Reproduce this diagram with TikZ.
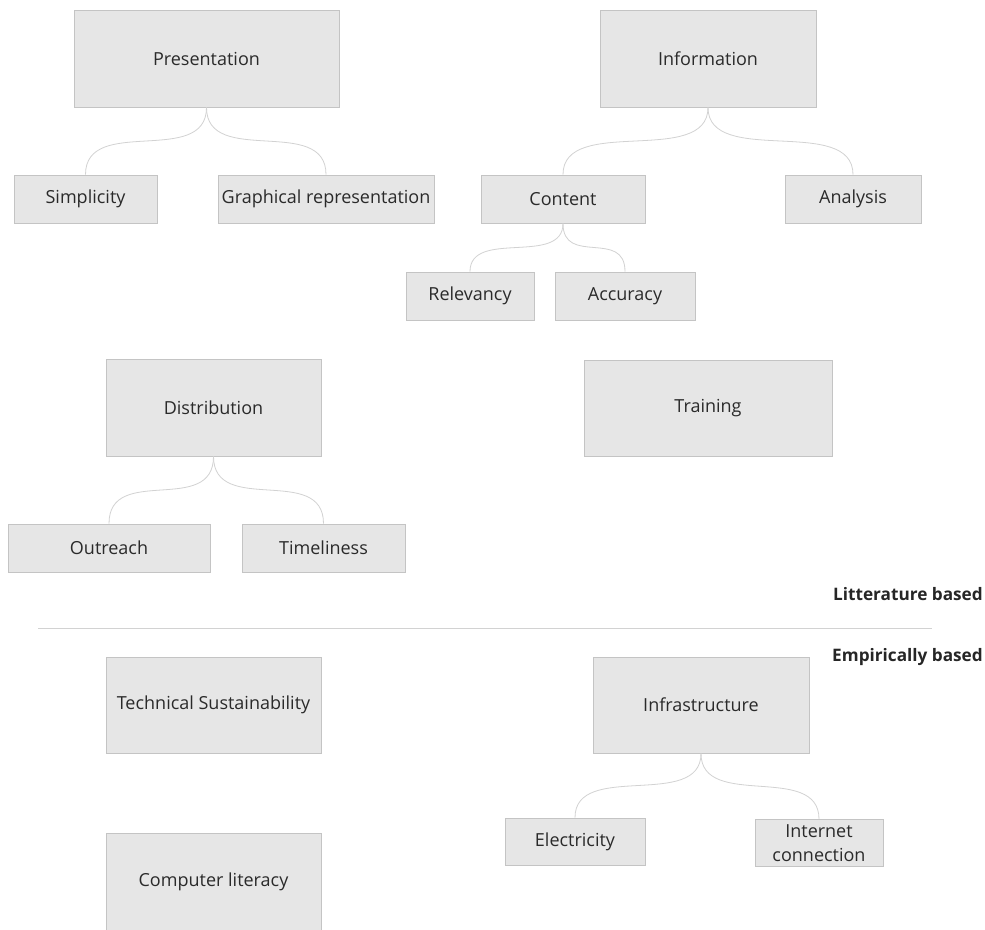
\documentclass[tikz,border=0pt]{standalone}
\usepackage{fontspec}
\setmainfont{Open Sans}
\definecolor{boxfill}{HTML}{E6E6E6}
\definecolor{boxline}{HTML}{C4C4C4}
\definecolor{connline}{HTML}{D2D2D2}
\definecolor{txt}{HTML}{2A2A2A}
\tikzset{
  box/.style={draw=boxline, fill=boxfill, line width=0.9pt, inner sep=0pt,
    text=txt, font=\fontsize{18}{22}\selectfont, align=center},
  conn/.style={draw=connline, line width=0.8pt},
  sectionlabel/.style={anchor=east, text=black!85, font=\fontsize{17.2}{20}\selectfont\bfseries, inner sep=0pt}
}
\newcommand{\curveconn}[3]{\draw[conn] (#1.south) .. controls +(0,#3) and +(0,-#3) .. (#2.north);}
\begin{document}
\begin{tikzpicture}[x=1pt,y=-1pt]
\clip (0,0) rectangle (985,929);
\fill[white] (0,0) rectangle (985,929);
% top-level boxes
\node[box, minimum width=265pt, minimum height=97pt] (pres) at (206.5,58.5) {Presentation};
\node[box, minimum width=216pt, minimum height=97pt] (info) at (708,58.5) {Information};
\node[box, minimum width=143pt, minimum height=48pt] (simp) at (85.5,199) {Simplicity};
\node[box, minimum width=216pt, minimum height=48pt] (graph) at (326,199) {Graphical representation};
\node[box, minimum width=164pt, minimum height=48pt] (content) at (563,199) {Content};
\node[box, minimum width=136pt, minimum height=48pt] (analysis) at (853,199) {Analysis};
\node[box, minimum width=128pt, minimum height=48pt] (relev) at (470,296) {Relevancy};
\node[box, minimum width=140pt, minimum height=48pt] (accur) at (625,296) {Accuracy};
\node[box, minimum width=215pt, minimum height=97pt] (distr) at (213.5,407.5) {Distribution};
\node[box, minimum width=248pt, minimum height=96pt] (train) at (708,408) {Training};
\node[box, minimum width=202pt, minimum height=48pt] (outreach) at (109,548) {Outreach};
\node[box, minimum width=163pt, minimum height=48pt] (timel) at (323.5,548) {Timeliness};
% separator
\node[sectionlabel] (lit) at (983,594) {Litterature based};
\coordinate (sepL) at (38,628);
\coordinate (sepR) at (932,628);
\draw[draw=connline, line width=0.9pt] (sepL) -- (sepR);
\node[sectionlabel] (emp) at (983,657) {Empirically based};
% empirical boxes
\node[box, minimum width=215pt, minimum height=96pt] (tech) at (213.5,705) {Technical Sustainability};
\node[box, minimum width=216pt, minimum height=96pt] (infra) at (701,705) {Infrastructure};
\node[box, minimum width=140pt, minimum height=47pt] (elec) at (575,841.5) {Electricity};
\node[box, minimum width=128pt, minimum height=47pt, text width=124pt, font=\fontsize{18}{24}\selectfont] (inet) at (819,843) {Internet\\connection};
\node[box, minimum width=215pt, minimum height=97pt] (comp) at (213.5,881.5) {Computer literacy};
% connectors
\curveconn{pres}{simp}{60}
\curveconn{pres}{graph}{60}
\curveconn{info}{content}{60}
\curveconn{info}{analysis}{60}
\curveconn{content}{relev}{43}
\curveconn{content}{accur}{43}
\curveconn{distr}{outreach}{60}
\curveconn{distr}{timel}{60}
\curveconn{infra}{elec}{57}
\curveconn{infra}{inet}{57}
\end{tikzpicture}
\end{document}
